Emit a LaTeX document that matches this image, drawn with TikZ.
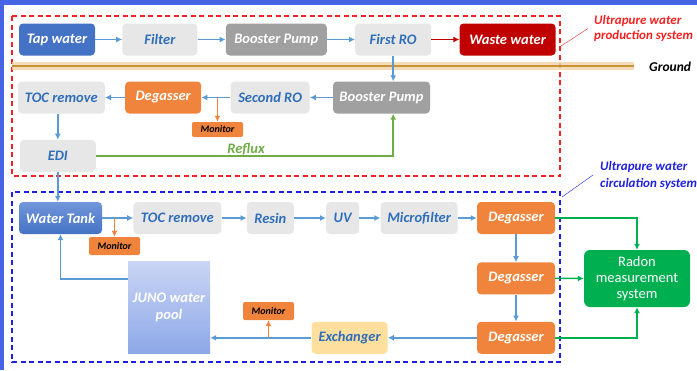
\documentclass[tikz,border=0pt]{standalone}
\usepackage{fontspec}
\setmainfont{Carlito}
\usetikzlibrary{positioning, arrows.meta}

\definecolor{frameblue}{RGB}{70,100,230}
\definecolor{tapblue}{HTML}{4472C4}
\definecolor{tanktop}{HTML}{7196DA}
\definecolor{lightbox}{HTML}{E7E7E7}
\definecolor{textblue}{HTML}{2F6EBA}
\definecolor{pumpgrey}{HTML}{A0A0A0}
\definecolor{wastered}{HTML}{C00000}
\definecolor{degasorange}{HTML}{F0843C}
\definecolor{flowblue}{HTML}{5B9BD5}
\definecolor{radongreen}{HTML}{00B050}
\definecolor{refluxgreen}{HTML}{70AD47}
\definecolor{exchfill}{HTML}{FFDF9E}
\definecolor{pooltop}{HTML}{CAD5F4}
\definecolor{poolbottom}{HTML}{8DA8E8}
\definecolor{groundbrown}{HTML}{C8923A}
\definecolor{groundglow}{HTML}{F3D3A6}
\definecolor{prodred}{HTML}{F52222}
\definecolor{circblue}{HTML}{2020E0}

\begin{document}
\begin{tikzpicture}[x=1pt, y=-1pt,
    every node/.style={inner sep=0pt, node distance=28pt, text centered, font=\fontsize{14.5}{17}\selectfont\bfseries\itshape},
    unit/.style={rectangle, rounded corners=4pt, minimum height=32pt},
    greyunit/.style={unit, fill=lightbox, text=textblue},
    pumpunit/.style={unit, fill=pumpgrey, text=white},
    degasunit/.style={unit, fill=degasorange, text=white, minimum width=78pt},
    monitorbox/.style={rectangle, rounded corners=2pt, fill=degasorange, minimum width=51pt, minimum height=17pt, font=\fontsize{10}{11}\selectfont\bfseries\itshape},
    tip/.style={-{Latex[length=6pt, width=6pt]}, line width=1.5pt},
    flow/.style={tip, draw=flowblue},
    monitorflow/.style={tip, draw=degasorange},
    sampleflow/.style={tip, draw=radongreen},
    systemframe/.style={line width=1.8pt, dash pattern=on 5pt off 3.5pt}
]
    % outer frame and bounding box
    \useasboundingbox (0,0) rectangle (697,370);
    \fill[frameblue] (0,0) rectangle (697,5);
    \fill[frameblue] (0,0) rectangle (4,370);

    % system frames
    \draw[systemframe, draw=prodred] (12,16) rectangle (560,176);
    \draw[systemframe, draw=circblue] (12,192) rectangle (560,362);

    % ground line
    \draw[line width=8pt, draw=groundglow, opacity=.8] (12,66) -- (634,66);
    \draw[line width=2pt, draw=groundbrown] (12,66) -- (634,66);
    \node (ground) [anchor=west, font=\fontsize{13.5}{15}\selectfont\bfseries\itshape] at (649,67) {Ground};

    % production row above ground
    \node (tap) [unit, fill=tapblue, text=white, minimum width=76pt] at (57,39.5) {Tap water};
    \node (filter) [right=27pt of tap, greyunit, minimum width=75pt] {Filter};
    \node (boostA) [right=of filter, pumpunit, minimum width=101pt] {Booster Pump};
    \node (firstro) [right=of boostA, greyunit, minimum width=76pt] {First RO};
    \node (waste) [right=of firstro, unit, fill=wastered, text=white, minimum width=96pt] {Waste water};

    % production row below ground
    \node (boostB) [pumpunit, minimum width=97pt] at (381.5,97.5) {Booster Pump};
    \node (secro) [left=23pt of boostB, greyunit, minimum width=79pt] {Second RO};
    \node (degasA) [left=29pt of secro, unit, fill=degasorange, text=white, minimum width=76pt] {Degasser};
    \node (tocA) [left=20pt of degasA, greyunit, minimum width=87pt] {TOC remove};
    \node (edi) [below=26pt of tocA, xshift=-3.5pt, greyunit, minimum width=76pt] {EDI};
    \node (monA) [monitorbox, minimum height=15pt] at (217.5,129.5) {Monitor};
    \node (reflux) [text=refluxgreen] at (246,149) {Reflux};

    % circulation system
    \node (tank) [unit, top color=tanktop, bottom color=tapblue, text=white, minimum width=83pt] at (60.5,218) {Water Tank};
    \node (tocB) [right=31pt of tank, greyunit, minimum width=88pt] {TOC remove};
    \node (resin) [right=25pt of tocB, greyunit, minimum width=47pt] {Resin};
    \node (uv) [right=32pt of resin, greyunit, minimum width=33pt] {UV};
    \node (micro) [right=21pt of uv, greyunit, minimum width=77pt] {Microfilter};
    \node (degasB) [right=19pt of micro, degasunit] {Degasser};
    \node (degasC) [below=of degasB, degasunit] {Degasser};
    \node (degasD) [below=27pt of degasC, degasunit] {Degasser};
    \node (exch) [left=89pt of degasD, unit, fill=exchfill, text=textblue, minimum width=76pt] {Exchanger};
    \node (pool) [rectangle, top color=pooltop, bottom color=poolbottom, text=white, minimum width=82pt, minimum height=92pt, align=center] at (169,307) {JUNO water\\pool};
    \node (monB) [monitorbox, minimum height=18pt] at (114.5,246) {Monitor};
    \node (monC) [monitorbox, minimum height=18pt] at (268.5,311) {Monitor};
    \node (radon) [rectangle, rounded corners=6pt, fill=radongreen, text=white, minimum width=106pt, minimum height=57pt, align=center, font=\fontsize{14.5}{16}\selectfont\mdseries\upshape] at (637,278.5) {Radon\\measurement\\system};

    % system labels
    \node (prodlabel) [anchor=west, align=left, text=prodred, font=\fontsize{13}{15}\selectfont\bfseries\itshape] at (594,28.5) {Ultrapure water\\production system};
    \node (circlabel) [anchor=west, align=left, text=circblue, font=\fontsize{13}{17}\selectfont\bfseries\itshape] at (600,175) {Ultrapure water\\circulation system};
    \coordinate (prodtip) at (561,46);
    \coordinate (circtip) at (562,197);
    \draw[draw=prodred, thin] (prodtip) -- ([xshift=-6pt]prodlabel.west);
    \draw[draw=circblue, thin] (circtip) -- ([xshift=-7pt]circlabel.west);

    % production flow
    \path[flow] (tap.east) -- (filter.west);
    \path[flow] (filter.east) -- (boostA.west);
    \path[flow] (boostA.east) -- (firstro.west);
    \path[tip, draw=wastered] (firstro.east) -- (waste.west);
    \path[flow] (firstro.south) -- (firstro.south |- boostB.north);
    \path[flow] (boostB.west) -- (secro.east);
    \path[flow] (secro.west) -- (degasA.east);
    \path[flow] (degasA.west) -- (tocA.east);
    \path[flow] (edi.north |- tocA.south) -- (edi.north);
    \path[tip, draw=refluxgreen] (edi.east) -| (firstro.south |- boostB.south);
    \path[monitorflow] (monA.north |- secro.west) -- (monA.north);

    % circulation flow
    \path[flow] (edi.south) -- (edi.south |- tank.north);
    \path[flow] (tank.east) -- (tocB.west);
    \path[flow] (tocB.east) -- (resin.west);
    \path[flow] (resin.east) -- (uv.west);
    \path[flow] (uv.east) -- (micro.west);
    \path[flow] (micro.east) -- (degasB.west);
    \path[flow] (degasB.south) -- (degasC.north);
    \path[flow] (degasC.south) -- (degasD.north);
    \path[flow] (degasD.west) -- (exch.east);
    \path[flow] (exch.west) -- (exch.west -| pool.east);
    \path[flow] ([yshift=28pt]pool.west) -| (tank.south);
    \path[monitorflow] (monB.north |- tank.east) -- (monB.north);
    \path[monitorflow] (monC.south |- exch.west) -- (monC.south);

    % radon sampling
    \path[sampleflow] (degasB.east) -| (radon.north);
    \path[sampleflow] (degasC.east) -- (radon.west);
    \path[sampleflow] (degasD.east) -| (radon.south);
\end{tikzpicture}
\end{document}
